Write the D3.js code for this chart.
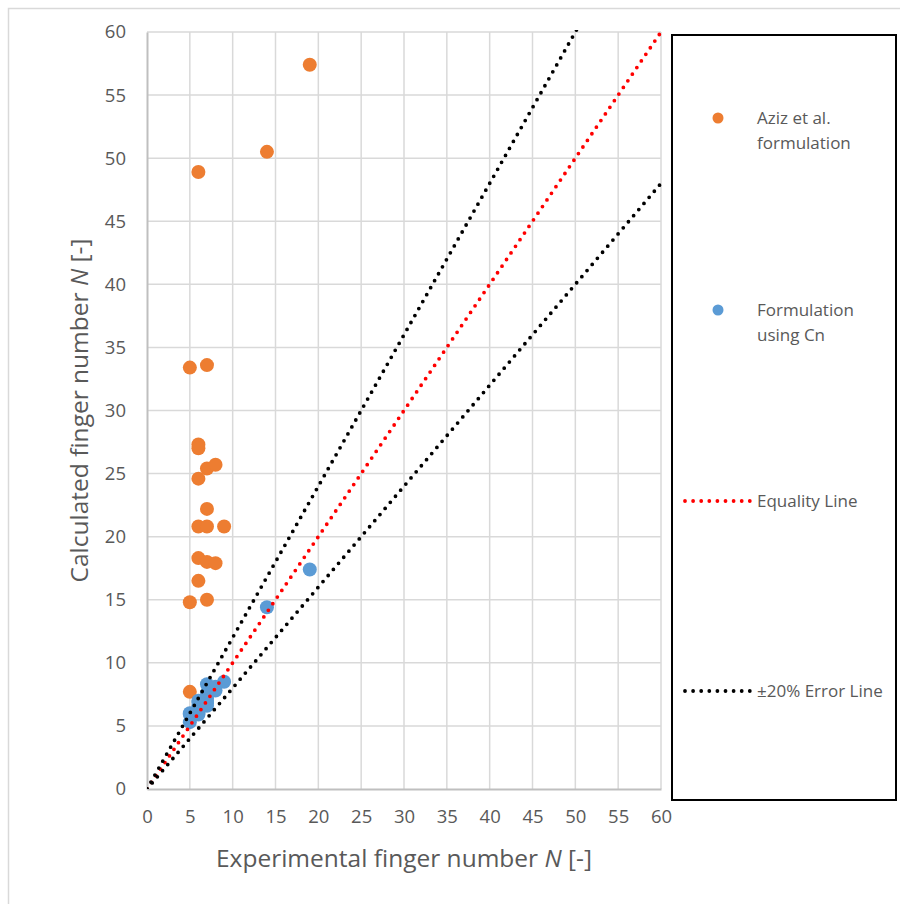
<!DOCTYPE html>
<html>
<head>
<meta charset="utf-8">
<script src="https://cdn.jsdelivr.net/npm/d3@7"></script>
<style>
  body { margin: 0; background: #fff; }
  text { font-family: "Open Sans", "Noto Sans", sans-serif; fill: #595959; }
</style>
</head>
<body>
<script>
// experimental vs calculated finger number
var azizX = [19, 14, 6, 5, 7, 6, 6, 7, 8, 6, 7, 6, 7, 9, 6, 7, 8, 6, 5, 7, 5];
var azizY = [57.4, 50.5, 48.9, 33.4, 33.6, 27.3, 27.0, 25.4, 25.7, 24.6, 22.2, 20.8, 20.8, 20.8, 18.3, 18.0, 17.9, 16.5, 14.8, 15.0, 7.7];

var cnX = [19, 14, 6, 5, 7, 6, 6, 7, 8, 6, 7, 6, 7, 9, 6, 7, 8, 6, 5, 7, 5];
var cnY = [17.4, 14.4, 6.9, 5.3, 8.3, 6.2, 6.6, 7.2, 8.1, 6.0, 6.8, 6.4, 7.6, 8.5, 5.9, 7.0, 7.8, 7.0, 5.9, 6.6, 6.0];

var lineX = [0, 60];
var equalityFactor = 1.0;
var errorFactors = [1.2, 0.8];

var xTicks = d3.range(0, 61, 5);
var yTicks = d3.range(0, 61, 5);

var legendLabels = [["Aziz et al.", "formulation"], ["Formulation", "using Cn"], ["Equality Line"], ["\u00b120% Error Line"]];

var w = 900, h = 904;
var pLeft = 147, pRight = 661, pTop = 32, pBottom = 789;

var svg = d3.select("body").append("svg")
  .attr("width", w).attr("height", h);

// outer chart border
svg.append("rect")
  .attr("x", 8.5).attr("y", 8.5)
  .attr("width", w + 10).attr("height", h + 10)
  .attr("fill", "none").attr("stroke", "#d9d9d9").attr("stroke-width", 1.5);

var x = d3.scaleLinear().domain([0, 60]).range([pLeft, pRight]);
var y = d3.scaleLinear().domain([0, 60]).range([pBottom, pTop]);

// gridlines
svg.append("g").selectAll("line")
  .data(xTicks.slice(1)).enter().append("line")
  .attr("x1", function(d) { return x(d); }).attr("x2", function(d) { return x(d); })
  .attr("y1", pTop).attr("y2", pBottom)
  .attr("stroke", "#d9d9d9").attr("stroke-width", 1.5);

svg.append("g").selectAll("line")
  .data(yTicks.slice(1)).enter().append("line")
  .attr("y1", function(d) { return y(d); }).attr("y2", function(d) { return y(d); })
  .attr("x1", pLeft).attr("x2", pRight)
  .attr("stroke", "#d9d9d9").attr("stroke-width", 1.5);

// axes
var xAxis = svg.append("g")
  .attr("transform", "translate(0," + pBottom + ")")
  .call(d3.axisBottom(x).tickValues(xTicks).tickSize(0).tickPadding(21));
var yAxis = svg.append("g")
  .attr("transform", "translate(" + pLeft + ",0)")
  .call(d3.axisLeft(y).tickValues(yTicks).tickSize(0).tickPadding(21));

[xAxis, yAxis].forEach(function(a) {
  a.select(".domain").attr("stroke", "#bfbfbf").attr("stroke-width", 2);
  a.selectAll("text").attr("font-size", 18.5).attr("fill", "#595959")
    .style("font-family", "'Open Sans', sans-serif");
});

// axis titles
var xt = svg.append("text")
  .attr("x", (pLeft + pRight) / 2).attr("y", 867)
  .attr("text-anchor", "middle").attr("font-size", 24.5);
xt.append("tspan").text("Experimental finger number ");
xt.append("tspan").attr("font-style", "italic").text("N");
xt.append("tspan").text(" [-]");

var yt = svg.append("text")
  .attr("transform", "translate(88," + ((pTop + pBottom) / 2) + ") rotate(-90)")
  .attr("text-anchor", "middle").attr("font-size", 24.5);
yt.append("tspan").text("Calculated finger number ");
yt.append("tspan").attr("font-style", "italic").text("N");
yt.append("tspan").text(" [-]");

// clip for the lines
svg.append("clipPath").attr("id", "plotclip")
  .append("rect").attr("x", pLeft).attr("y", pTop - 2)
  .attr("width", pRight - pLeft + 2).attr("height", pBottom - pTop + 2);

// scatter points
svg.append("g").selectAll("circle")
  .data(azizX).enter().append("circle")
  .attr("cx", function(d) { return x(d); })
  .attr("cy", function(d, i) { return y(azizY[i]); })
  .attr("r", 7).attr("fill", "#ed7d31");

svg.append("g").selectAll("circle")
  .data(cnX).enter().append("circle")
  .attr("cx", function(d) { return x(d); })
  .attr("cy", function(d, i) { return y(cnY[i]); })
  .attr("r", 7).attr("fill", "#5b9bd5");

var line = d3.line()
  .x(function(d) { return x(d[0]); })
  .y(function(d) { return y(d[1]); });

function dotted(g, factor, color) {
  g.append("path")
    .attr("d", line(lineX.map(function(v) { return [v, v * factor]; })))
    .attr("fill", "none").attr("stroke", color)
    .attr("stroke-width", 3.8)
    .attr("stroke-dasharray", "0,8")
    .attr("stroke-linecap", "round");
}

var lg = svg.append("g").attr("clip-path", "url(#plotclip)");
dotted(lg, equalityFactor, "#ff0000");
errorFactors.forEach(function(f) { dotted(lg, f, "#000000"); });

// legend
svg.append("rect")
  .attr("x", 672).attr("y", 35).attr("width", 224).attr("height", 765)
  .attr("fill", "#fff").attr("stroke", "#000").attr("stroke-width", 2);

var legendY = [118, 310, 501, 691];
var leg = svg.append("g");
legendLabels.forEach(function(lbl, i) {
  var cy = legendY[i];
  if (i < 2) {
    leg.append("circle").attr("cx", 718).attr("cy", cy)
      .attr("r", 5.5).attr("fill", i == 0 ? "#ed7d31" : "#5b9bd5");
  } else {
    leg.append("line")
      .attr("x1", 685).attr("x2", 750).attr("y1", cy).attr("y2", cy)
      .attr("stroke", i == 2 ? "#ff0000" : "#000")
      .attr("stroke-width", 3.8).attr("stroke-dasharray", "0,8.1")
      .attr("stroke-linecap", "round");
  }
  var t = leg.append("text").attr("x", 757).attr("font-size", 17);
  lbl.forEach(function(s, j) {
    t.append("tspan").attr("x", 757)
      .attr("y", cy + 6 + j * 25)
      .text(s);
  });
});
</script>
</body>
</html>
